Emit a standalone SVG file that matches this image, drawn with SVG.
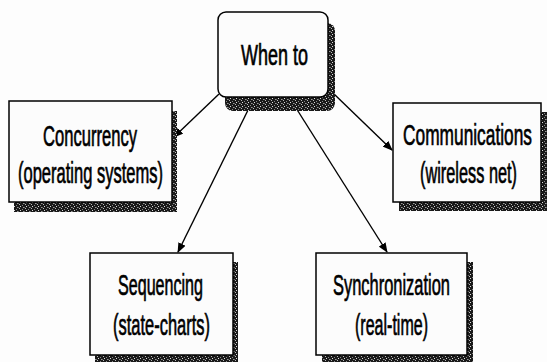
<svg xmlns="http://www.w3.org/2000/svg" width="547" height="362" viewBox="0 0 547 362">
  <style>
    .box { fill: #fcfcfc; stroke: #000; stroke-width: 1.5; }
    .shadow { fill: url(#dither); }
    .label { font-family: "Liberation Sans", Arial, sans-serif; font-size: 29px; fill: #000; stroke: #000; stroke-width: 0.7; text-anchor: middle; }
    .edge { stroke: #000; stroke-width: 1.4; fill: none; marker-end: url(#arrow); }
  </style>
  <defs>
    <!-- grainy drop-shadow fill -->
    <pattern id="dither" width="6" height="4" patternUnits="userSpaceOnUse">
      <rect width="6" height="4" fill="#1a1a1a"/>
      <rect x="1" y="0" width="1" height="1" fill="#bbb"/>
      <rect x="4" y="1" width="1" height="1" fill="#888"/>
      <rect x="2" y="2" width="1" height="1" fill="#ddd"/>
      <rect x="5" y="3" width="1" height="1" fill="#999"/>
      <rect x="0" y="3" width="1" height="1" fill="#666"/>
    </pattern>
    <marker id="arrow" markerUnits="userSpaceOnUse" markerWidth="10" markerHeight="8" refX="9" refY="4" orient="auto">
      <path d="M0,0 L10,4 L0,8 z" fill="#000"/>
    </marker>
  </defs>

  <rect width="547" height="362" fill="#fdfdfd"/>

  <!-- connectors -->
  <g id="connectors">
    <line class="edge" x1="219" y1="94" x2="174" y2="137"/>
    <line class="edge" x1="252" y1="102" x2="178" y2="252"/>
    <line class="edge" x1="296" y1="108" x2="387" y2="252"/>
    <line class="edge" x1="334" y1="94" x2="392" y2="150"/>
  </g>

  <g id="when-to">
    <rect class="shadow" x="225" y="23" width="110" height="88" rx="8"/>
    <rect class="box" x="218" y="12" width="110" height="85" rx="8"/>
    <text class="label" transform="translate(274.5,65) scale(0.62,1)">When to</text>
  </g>

  <g id="concurrency">
    <rect class="shadow" x="14" y="111" width="163" height="101"/>
    <rect class="box" x="9" y="101" width="163" height="101"/>
    <text class="label" transform="translate(90,146) scale(0.572,1)">Concurrency</text>
    <text class="label" transform="translate(90.5,183) scale(0.57,1)">(operating systems)</text>
  </g>

  <g id="communications">
    <rect class="shadow" x="399" y="112" width="148" height="99"/>
    <rect class="box" x="393" y="103" width="148" height="99"/>
    <text class="label" transform="translate(467.5,145) scale(0.597,1)">Communications</text>
    <text class="label" transform="translate(468.5,183) scale(0.563,1)">(wireless net)</text>
  </g>

  <g id="sequencing">
    <rect class="shadow" x="95" y="262" width="143" height="102"/>
    <rect class="box" x="90" y="253" width="143" height="102"/>
    <text class="label" transform="translate(160.5,295) scale(0.555,1)">Sequencing</text>
    <text class="label" transform="translate(161.5,335) scale(0.568,1)">(state-charts)</text>
  </g>

  <g id="synchronization">
    <rect class="shadow" x="322" y="262" width="151" height="102"/>
    <rect class="box" x="316" y="253" width="151" height="102"/>
    <text class="label" transform="translate(391.5,295) scale(0.567,1)">Synchronization</text>
    <text class="label" transform="translate(391.5,335) scale(0.553,1)">(real-time)</text>
  </g>
</svg>
